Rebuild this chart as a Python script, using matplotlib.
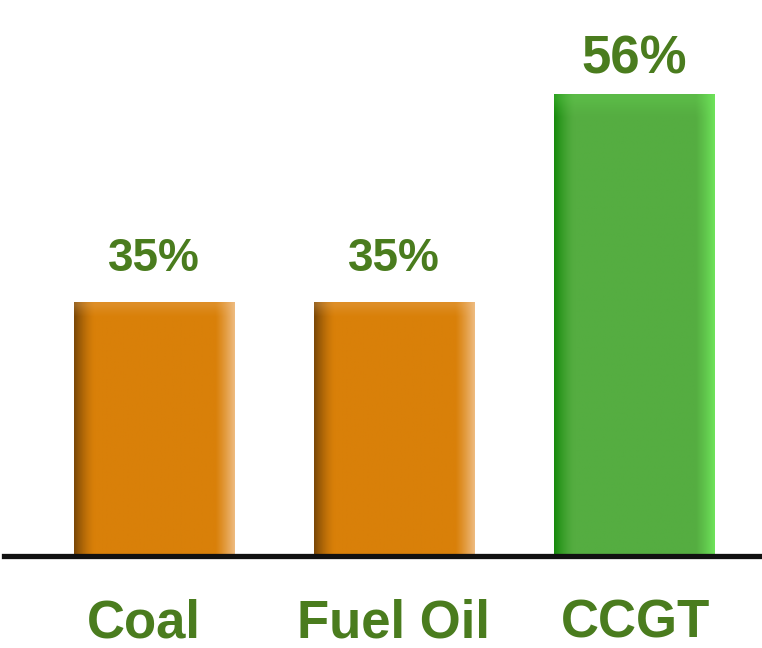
import numpy as np
import matplotlib.pyplot as plt
from matplotlib.colors import to_rgb

categories = ["Coal", "Fuel Oil", "CCGT"]
efficiency = [35, 35, 56]
labels = ["35%", "35%", "56%"]

base_colors = ["#d98009", "#d98009", "#55ad41"]
left_colors = ["#7a4706", "#7a4706", "#168a0c"]
right_colors = ["#eebb80", "#eebb80", "#6ee35a"]
text_green = "#4a7c1e"
label_gap = [23, 23, 15]    # points between bar top and value text baseline
label_size = [33, 33, 38]
name_dx = [-7, 0, 1]        # small horizontal nudges of the category names, points

fig = plt.figure(figsize=(7.62, 6.48), dpi=100)
ax = fig.add_axes([0.005, 0.142, 0.995, 0.858])

x = np.arange(len(categories))
bars = ax.bar(x, efficiency, width=0.667, color=base_colors, zorder=2)


def shade(base, left, right, n=200):
    # horizontal shading: dark left edge, light right edge
    t = np.linspace(0, 1, n)
    b, l, r = np.array(to_rgb(base)), np.array(to_rgb(left)), np.array(to_rgb(right))
    wl = np.clip(1 - t / 0.13, 0, 1)[:, None] ** 1.5
    wr = np.clip((t - 0.88) / 0.12, 0, 1)[:, None] ** 1.2
    row = b * (1 - wl - wr) + l * wl + r * wr
    img = np.repeat(row[None, :, :], 60, axis=0)
    # soft light rim on top, slightly darker at bottom
    v = np.linspace(0, 1, 60)[:, None, None]
    top = np.clip(1 - (1 - v) / 0.03, 0, 1) * 0.25
    bot = np.clip(1 - v / 0.03, 0, 1) * 0.15
    img = img * (1 - top - bot) + np.array(to_rgb(right)) * top + np.array(to_rgb(left)) * bot
    return img


for bar, bc, lc, rc in zip(bars, base_colors, left_colors, right_colors):
    x0 = bar.get_x()
    x1 = x0 + bar.get_width()
    y1 = bar.get_height()
    ax.imshow(shade(bc, lc, rc), extent=(x0, x1, 0, y1), aspect="auto",
              origin="lower", zorder=3, interpolation="bilinear")

for xi, v, lab, gap, fs in zip(x, efficiency, labels, label_gap, label_size):
    ax.annotate(lab, (xi, v), xytext=(0, gap), textcoords="offset points",
                ha="center", va="baseline", fontsize=fs, fontweight="bold",
                color=text_green, family="Liberation Sans")

# category names under the baseline
for xi, name, dx in zip(x, categories, name_dx):
    ax.annotate(name, (xi, 0), xycoords=("data", "axes fraction"),
                xytext=(dx, -59), textcoords="offset points",
                ha="center", va="baseline", fontsize=38, fontweight="bold",
                color=text_green, family="Liberation Sans", annotation_clip=False)

ax.set_xlim(-0.625, 2.533)
ax.set_ylim(9.46, 65.5)
ax.axhline(9.46, color="#111111", lw=3.8, zorder=4, clip_on=False)

ax.set_xticks([])
ax.set_yticks([])
for s in ax.spines.values():
    s.set_visible(False)

fig.savefig("out.png", dpi=100)
